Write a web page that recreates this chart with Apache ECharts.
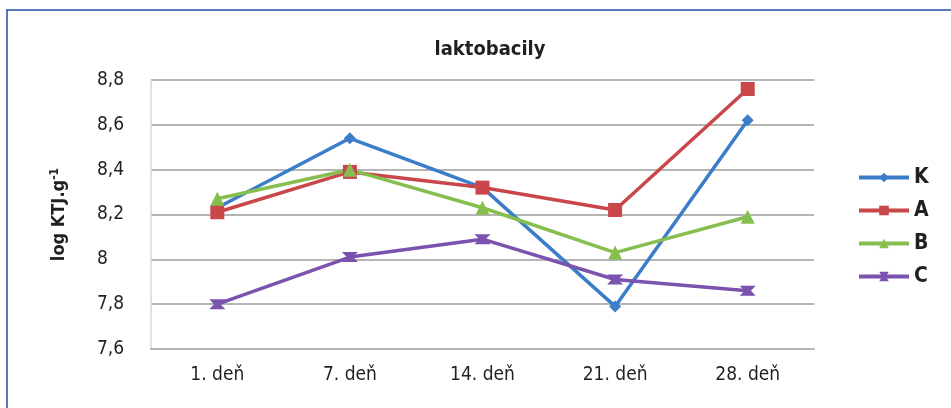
<!DOCTYPE html>
<html>
<head>
<meta charset="utf-8">
<script src="https://cdn.jsdelivr.net/npm/echarts@6/dist/echarts.min.js"></script>
<style>
html,body{margin:0;padding:0;background:#fff;}
#c{width:951px;height:408px;}
</style>
</head>
<body>
<div id="c"></div>
<script>
const categories = ['1. deň', '7. deň', '14. deň', '21. deň', '28. deň'];
const seriesK = [8.23, 8.54, 8.32, 7.79, 8.62];
const seriesA = [8.21, 8.39, 8.32, 8.22, 8.76];
const seriesB = [8.27, 8.40, 8.23, 8.03, 8.19];
const seriesC = [7.80, 8.01, 8.09, 7.91, 7.86];
const seriesNames = ['K', 'A', 'B', 'C'];
const yTicks = [7.6, 7.8, 8.0, 8.2, 8.4, 8.6, 8.8];

const FONT = '"Liberation Sans Narrow", "DejaVu Sans Condensed", sans-serif';
const colors = ['#3b7dc8', '#c9474b', '#86bf4f', '#7b52ae'];
const bowtie = 'path://M0,0 L20,0 L14,5 L20,10 L0,10 L6,5 Z';

function mk(name, data, color, symbol, size) {
  return {
    name: name, type: 'line', data: data,
    symbol: symbol, symbolSize: size,
    lineStyle: {color: color, width: 3.5},
    itemStyle: {color: color},
    z: 3
  };
}

const chart = echarts.init(document.getElementById('c'));
chart.setOption({
  animation: false,
  color: colors,
  graphic: [{
    type: 'rect', shape: {x: 7, y: 10, width: 960, height: 420},
    style: {fill: 'none', stroke: '#2a4aa8', lineWidth: 1.5}, silent: true
  }],
  title: {
    text: 'laktobacily', left: 485, top: 35, textAlign: 'center',
    textStyle: {fontFamily: FONT, fontWeight: 'bold', fontSize: 20, color: '#231f20'}
  },
  legend: {
    orient: 'vertical', left: 852, top: 162,
    itemWidth: 50, itemHeight: 12, itemGap: 12,
    lineStyle: {width: 4},
    textStyle: {fontFamily: FONT, fontWeight: 'bold', fontSize: 21, color: '#231f20', padding: [0,0,0,0]},
    data: seriesNames
  },
  grid: {left: 151, right: 137, top: 80, bottom: 59},
  xAxis: {
    type: 'category', data: categories, boundaryGap: true,
    axisLine: {show: true, lineStyle: {color: '#b5b5b5', width: 2}},
    axisTick: {show: false},
    axisLabel: {fontFamily: FONT, fontSize: 19, color: '#231f20', margin: 17}
  },
  yAxis: {
    type: 'value', min: 7.6, max: 8.8, interval: 0.2,
    name: '{a|log KTJ.g}{s|-1}', nameLocation: 'middle', nameGap: 82, nameRotate: 90,
    nameTextStyle: {
      rich: {
        a: {fontFamily: FONT, fontWeight: 'bold', fontSize: 18, color: '#231f20'},
        s: {fontFamily: FONT, fontWeight: 'bold', fontSize: 12, color: '#231f20', verticalAlign: 'top', padding: [0,0,8,0]}
      }
    },
    axisLine: {show: true, lineStyle: {color: '#d8d8d8', width: 1.5}},
    axisTick: {show: false},
    axisLabel: {
      fontFamily: FONT, fontSize: 19, color: '#231f20', align: 'left', margin: 54,
      formatter: function (v) {
        const t = yTicks.find(x => Math.abs(x - v) < 1e-6);
        return String(+((t !== undefined ? t : v).toFixed(1))).replace('.', ',');
      }
    },
    splitLine: {lineStyle: {color: '#b5b5b5', width: 2}}
  },
  series: [
    mk('K', seriesK, colors[0], 'diamond', 12),
    mk('A', seriesA, colors[1], 'rect', 14),
    mk('B', seriesB, colors[2], 'triangle', 14),
    mk('C', seriesC, colors[3], bowtie, [16, 10])
  ]
});
</script>
</body>
</html>
